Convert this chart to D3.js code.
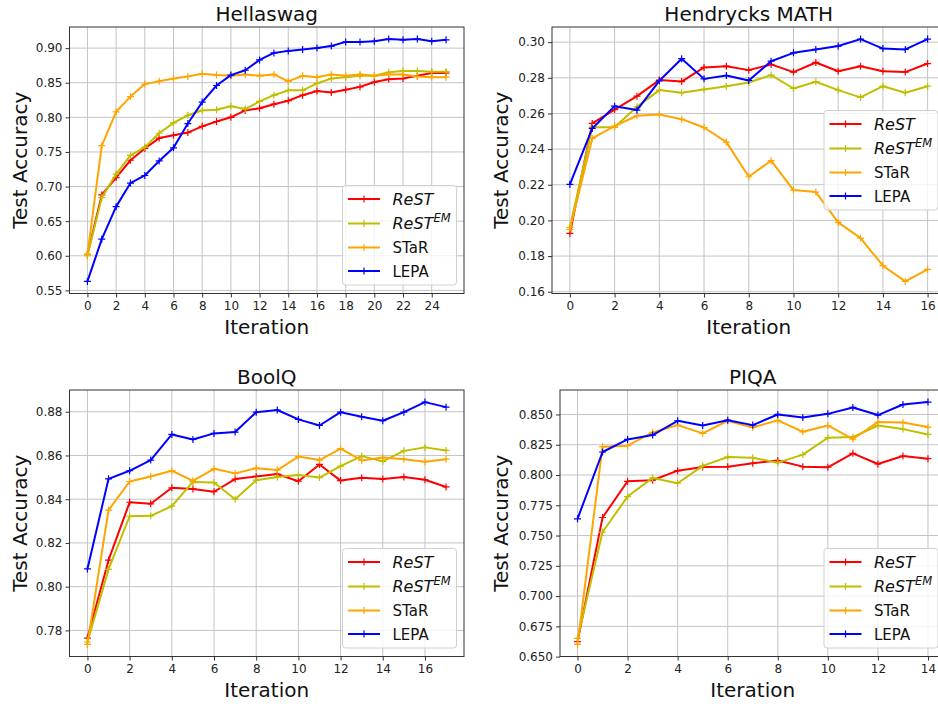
<!DOCTYPE html>
<html>
<head>
<meta charset="utf-8">
<script src="https://cdn.jsdelivr.net/npm/d3@7"></script>
<style>
  html, body { margin: 0; padding: 0; background: #fff; }
  svg { display: block; font-family: "DejaVu Sans", sans-serif; }
</style>
</head>
<body>
<svg id="chart" width="938" height="704"></svg>
<script>
// ---------- DATA ----------
const seriesNames = ["ReST", "ReST^EM", "STaR", "LEPA"];
const seriesColors = ["#ff0000", "#bfbf00", "#ffa500", "#0000ff"];

const panelTitles = ["Hellaswag", "Hendrycks MATH", "BoolQ", "PIQA"];

const hellaswagIter = d3.range(0, 26);
const hellaswagReST   = [0.602,0.688,0.713,0.738,0.755,0.770,0.774,0.778,0.787,0.794,0.800,0.810,0.813,0.819,0.824,0.832,0.838,0.836,0.840,0.844,0.851,0.855,0.856,0.860,0.864,0.864];
const hellaswagReSTEM = [0.600,0.684,0.718,0.745,0.757,0.777,0.792,0.803,0.810,0.811,0.816,0.812,0.823,0.832,0.839,0.839,0.849,0.856,0.858,0.860,0.860,0.865,0.867,0.867,0.866,0.866];
const hellaswagSTaR   = [0.602,0.759,0.808,0.830,0.848,0.852,0.856,0.859,0.863,0.861,0.860,0.862,0.860,0.862,0.852,0.860,0.858,0.862,0.860,0.862,0.860,0.862,0.862,0.859,0.858,0.858];
const hellaswagLEPA   = [0.563,0.624,0.671,0.705,0.716,0.737,0.756,0.791,0.822,0.846,0.861,0.868,0.883,0.893,0.896,0.898,0.900,0.903,0.909,0.909,0.910,0.913,0.912,0.913,0.910,0.912];
const hellaswagXTicks = d3.range(0, 25, 2);
const hellaswagYTicks = [0.55,0.60,0.65,0.70,0.75,0.80,0.85,0.90];

const mathIter = d3.range(0, 17);
const mathReST   = [0.1927,0.2544,0.2622,0.2697,0.2787,0.2779,0.2858,0.2865,0.2843,0.2875,0.2832,0.2886,0.2837,0.2865,0.2837,0.2832,0.2880];
const mathReSTEM = [0.1961,0.2522,0.2522,0.2637,0.2731,0.2716,0.2735,0.2753,0.2774,0.2815,0.2740,0.2778,0.2731,0.2690,0.2753,0.2716,0.2753];
const mathSTaR   = [0.1950,0.2460,0.2529,0.2587,0.2594,0.2568,0.2521,0.2439,0.2245,0.2335,0.2170,0.2159,0.1989,0.1901,0.1746,0.1658,0.1725];
const mathLEPA   = [0.2202,0.2516,0.2641,0.2619,0.2783,0.2907,0.2794,0.2813,0.2785,0.2893,0.2940,0.2959,0.2978,0.3017,0.2964,0.2959,0.3017];
const mathXTicks = d3.range(0, 17, 2);
const mathYTicks = [0.16,0.18,0.20,0.22,0.24,0.26,0.28,0.30];

const boolqIter = d3.range(0, 18);
const boolqReST   = [0.7765,0.8121,0.8386,0.8379,0.8452,0.8447,0.8434,0.8492,0.8504,0.8515,0.8482,0.8559,0.8485,0.8498,0.8492,0.8502,0.8489,0.8456];
const boolqReSTEM = [0.7747,0.8079,0.8322,0.8324,0.8368,0.8479,0.8476,0.8400,0.8487,0.8502,0.8511,0.8499,0.8551,0.8597,0.8573,0.8621,0.8637,0.8623];
const boolqSTaR   = [0.7736,0.8350,0.8481,0.8504,0.8530,0.8484,0.8539,0.8518,0.8542,0.8533,0.8595,0.8579,0.8631,0.8577,0.8591,0.8583,0.8571,0.8583];
const boolqLEPA   = [0.8081,0.8493,0.8530,0.8579,0.8696,0.8673,0.8701,0.8707,0.8798,0.8808,0.8765,0.8737,0.8798,0.8777,0.8759,0.8798,0.8844,0.8821];
const boolqXTicks = d3.range(0, 17, 2);
const boolqYTicks = [0.78,0.80,0.82,0.84,0.86,0.88];

const piqaIter = d3.range(0, 15);
const piqaReST   = [0.6623,0.7649,0.7948,0.7957,0.8036,0.8066,0.8069,0.8097,0.8119,0.8069,0.8064,0.8179,0.8091,0.8157,0.8135];
const piqaReSTEM = [0.6650,0.7529,0.7822,0.7976,0.7932,0.8075,0.8149,0.8143,0.8102,0.8168,0.8308,0.8313,0.8409,0.8379,0.8335];
const piqaSTaR   = [0.6601,0.8234,0.8242,0.8352,0.8412,0.8344,0.8448,0.8393,0.8451,0.8357,0.8409,0.8297,0.8437,0.8434,0.8396];
const piqaLEPA   = [0.7638,0.8190,0.8294,0.8330,0.8448,0.8409,0.8453,0.8412,0.8500,0.8475,0.8505,0.8558,0.8495,0.8582,0.8602];
const piqaXTicks = d3.range(0, 15, 2);
const piqaYTicks = [0.650,0.675,0.700,0.725,0.750,0.775,0.800,0.825,0.850];

// ---------- LAYOUT ----------
const panels = [
  { title: panelTitles[0], iter: hellaswagIter, series: [hellaswagReST, hellaswagReSTEM, hellaswagSTaR, hellaswagLEPA],
    xTicks: hellaswagXTicks, yTicks: hellaswagYTicks, yFmt: ".2f",
    box: { l: 69.5, r: 464, t: 27, b: 293.5 }, ylabX: 27, legend: "lower right" },
  { title: panelTitles[1], iter: mathIter, series: [mathReST, mathReSTEM, mathSTaR, mathLEPA],
    xTicks: mathXTicks, yTicks: mathYTicks, yFmt: ".2f",
    box: { l: 552, r: 945.5, t: 27, b: 293.5 }, ylabX: 508, legend: "center right" },
  { title: panelTitles[2], iter: boolqIter, series: [boolqReST, boolqReSTEM, boolqSTaR, boolqLEPA],
    xTicks: boolqXTicks, yTicks: boolqYTicks, yFmt: ".2f",
    box: { l: 69.5, r: 464, t: 390, b: 656.5 }, ylabX: 27, legend: "lower right" },
  { title: panelTitles[3], iter: piqaIter, series: [piqaReST, piqaReSTEM, piqaSTaR, piqaLEPA],
    xTicks: piqaXTicks, yTicks: piqaYTicks, yFmt: ".3f",
    box: { l: 560, r: 945.5, t: 390, b: 656.5 }, ylabX: 508, legend: "lower right" }
];

const svg = d3.select("#chart");

function padded(ext) {
  const d = ext[1] - ext[0];
  return [ext[0] - 0.05 * d, ext[1] + 0.05 * d];
}

panels.forEach(p => {
  const B = p.box;
  const xExt = d3.extent(p.iter);
  const allY = p.series.flat();
  const x = d3.scaleLinear().domain(padded(xExt)).range([B.l, B.r]);
  const y = d3.scaleLinear().domain(padded(d3.extent(allY))).range([B.b, B.t]);

  const g = svg.append("g");

  // grid
  g.append("g").selectAll("line").data(p.xTicks).join("line")
    .attr("x1", d => x(d)).attr("x2", d => x(d)).attr("y1", B.t).attr("y2", B.b)
    .attr("stroke", "#c4c4c4").attr("stroke-width", 1);
  g.append("g").selectAll("line").data(p.yTicks).join("line")
    .attr("x1", B.l).attr("x2", B.r).attr("y1", d => y(d)).attr("y2", d => y(d))
    .attr("stroke", "#c4c4c4").attr("stroke-width", 1);

  // axes
  const xAxis = d3.axisBottom(x).tickValues(p.xTicks).tickSize(4).tickPadding(4).tickFormat(d3.format("d"));
  const yAxis = d3.axisLeft(y).tickValues(p.yTicks).tickSize(4).tickPadding(3).tickFormat(d3.format(p.yFmt));
  const gx = g.append("g").attr("transform", `translate(0,${B.b})`).call(xAxis);
  const gy = g.append("g").attr("transform", `translate(${B.l},0)`).call(yAxis);
  [gx, gy].forEach(a => {
    a.select(".domain").remove();
    a.selectAll(".tick line").attr("stroke", "#333").attr("stroke-width", 1);
    a.selectAll(".tick text").attr("fill", "#222").attr("font-size", 12).attr("font-family", "DejaVu Sans");
  });

  // series
  const line = d3.line().x((d, i) => x(p.iter[i])).y(d => y(d));
  const clipId = "clip" + Math.round(B.l) + "_" + Math.round(B.t);
  svg.append("clipPath").attr("id", clipId).append("rect")
    .attr("x", B.l - 6).attr("y", B.t - 6).attr("width", B.r - B.l + 12).attr("height", B.b - B.t + 12);
  const sg = g.append("g").attr("clip-path", `url(#${clipId})`);
  p.series.forEach((vals, si) => {
    const c = seriesColors[si];
    sg.append("path").datum(vals).attr("d", line)
      .attr("fill", "none").attr("stroke", c).attr("stroke-width", 2).attr("stroke-linejoin", "round");
    sg.append("g").selectAll("path").data(vals).join("path")
      .attr("d", (d, i) => {
        const cx = x(p.iter[i]), cy = y(d), s = 3.5;
        return `M${cx - s},${cy}H${cx + s}M${cx},${cy - s}V${cy + s}`;
      })
      .attr("stroke", c).attr("stroke-width", 1.2).attr("fill", "none");
  });

  // frame
  g.append("rect").attr("x", B.l).attr("y", B.t).attr("width", B.r - B.l).attr("height", B.b - B.t)
    .attr("fill", "none").attr("stroke", "#333").attr("stroke-width", 1);

  // title and labels
  g.append("text").attr("x", (B.l + B.r) / 2).attr("y", B.t - 6.5).attr("text-anchor", "middle")
    .attr("font-size", 20).attr("fill", "#111").text(p.title);
  g.append("text").attr("x", (B.l + B.r) / 2).attr("y", B.b + 40.5).attr("text-anchor", "middle")
    .attr("font-size", 20).attr("fill", "#111").text("Iteration");
  g.append("text").attr("transform", `translate(${p.ylabX},${(B.t + B.b) / 2}) rotate(-90)`)
    .attr("text-anchor", "middle").attr("font-size", 20).attr("fill", "#111").text("Test Accuracy");

  // legend
  const lw = 114, lh = 99.5;
  const lx = B.r - 7.5 - lw;
  const ly = p.legend === "lower right" ? B.b - 8.5 - lh : (B.t + B.b) / 2 - lh / 2;
  const lg = g.append("g").attr("transform", `translate(${lx},${ly})`);
  lg.append("rect").attr("width", lw).attr("height", lh).attr("rx", 3)
    .attr("fill", "#fff").attr("fill-opacity", 0.8).attr("stroke", "#d0d0d0").attr("stroke-width", 1);
  const rowY = [13.5, 38, 62, 85.5];
  seriesNames.forEach((name, si) => {
    const ry = rowY[si];
    lg.append("line").attr("x1", 5.5).attr("x2", 37.5).attr("y1", ry).attr("y2", ry)
      .attr("stroke", seriesColors[si]).attr("stroke-width", 2);
    lg.append("path").attr("d", `M18,${ry}H25M21.5,${ry - 3.5}V${ry + 3.5}`)
      .attr("stroke", seriesColors[si]).attr("stroke-width", 1.2);
    const t = lg.append("text").attr("x", 50).attr("y", ry + 5.5).attr("fill", "#111").attr("font-size", 15);
    if (name === "ReST") {
      t.attr("font-style", "italic").attr("font-size", 16).text("ReST");
    } else if (name === "ReST^EM") {
      t.attr("font-style", "italic").attr("font-size", 16);
      t.append("tspan").text("ReST");
      t.append("tspan").attr("dy", -7).attr("font-size", 11.5).text("EM");
    } else {
      t.text(name);
    }
  });
});
</script>
</body>
</html>
